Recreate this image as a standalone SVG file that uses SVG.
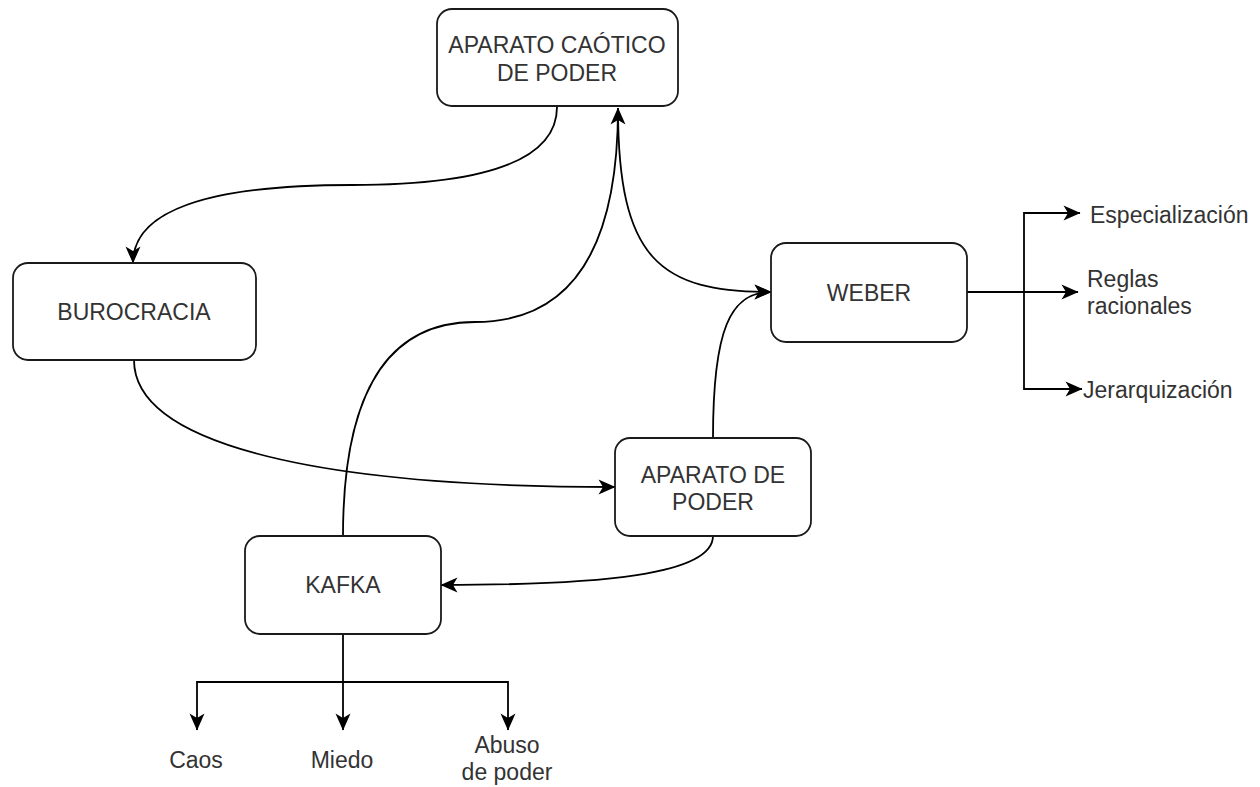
<svg xmlns="http://www.w3.org/2000/svg" width="1260" height="787" viewBox="0 0 1260 787">
  <style>
    .box { fill: #ffffff; stroke: #1a1a1a; stroke-width: 1.8; }
    .lbl { font-family: "Liberation Sans", Arial, sans-serif; font-size: 23px; fill: #333333; }
    .mid { text-anchor: middle; }
    .edge { fill: none; stroke: #000000; stroke-width: 1.8; marker-end: url(#arrow); }
  </style>
  <defs>
    <!-- classic filled arrowhead with a shallow notch -->
    <marker id="arrow" viewBox="0 0 18 18" refX="17.5" refY="9" markerWidth="18" markerHeight="18" markerUnits="userSpaceOnUse" orient="auto">
      <path d="M1,1.5 L18,9 L1,16.5 L5.5,9 Z" fill="#000000"/>
    </marker>
  </defs>

  <rect width="1260" height="787" fill="#ffffff"/>

  <!-- connectors -->
  <g id="connectors">
    <!-- aparato caótico -> burocracia -->
    <path class="edge" d="M557,107 Q557,185 352,185 Q133,185 133,263"/>
    <!-- kafka -> aparato caótico -->
    <path class="edge" d="M343,536 Q343,322 475,322 Q618,322 618,108"/>
    <!-- aparato caótico -> weber -->
    <path class="edge" d="M618,108 C618,260 660,292 771,292"/>
    <!-- burocracia -> aparato de poder -->
    <path class="edge" d="M134,360 C134,440 300,487 615,487"/>
    <!-- aparato de poder -> weber -->
    <path class="edge" d="M713,438 C713,330 730,292 771,292"/>
    <!-- aparato de poder -> kafka -->
    <path class="edge" d="M713,536 C713,575 600,585 441,585"/>
    <!-- weber branches -->
    <path class="edge" d="M967,292 L1078,292"/>
    <path class="edge" d="M1024,292 L1024,213 L1080,213"/>
    <path class="edge" d="M1024,292 L1024,389 L1082,389"/>
    <!-- kafka branches -->
    <path class="edge" d="M343,634 L343,730"/>
    <path class="edge" d="M343,682 L197,682 L197,730"/>
    <path class="edge" d="M343,682 L508,682 L508,730"/>
  </g>

  <g id="node-aparato-caotico">
    <rect class="box" x="437" y="9" width="241" height="97" rx="15" ry="15"/>
    <text class="lbl mid" x="557" y="53">APARATO CAÓTICO</text>
    <text class="lbl mid" x="557" y="81">DE PODER</text>
  </g>

  <g id="node-burocracia">
    <rect class="box" x="13" y="263" width="243" height="97" rx="15" ry="15"/>
    <text class="lbl mid" x="134" y="320">BUROCRACIA</text>
  </g>

  <g id="node-weber">
    <rect class="box" x="771" y="243" width="196" height="99" rx="15" ry="15"/>
    <text class="lbl mid" x="869" y="301">WEBER</text>
  </g>

  <g id="node-aparato-poder">
    <rect class="box" x="615" y="438" width="196" height="98" rx="15" ry="15"/>
    <text class="lbl mid" x="713" y="483">APARATO DE</text>
    <text class="lbl mid" x="713" y="510">PODER</text>
  </g>

  <g id="node-kafka">
    <rect class="box" x="245" y="536" width="196" height="98" rx="15" ry="15"/>
    <text class="lbl mid" x="343" y="593">KAFKA</text>
  </g>

  <g id="node-especializacion">
    <text class="lbl" x="1090" y="223">Especialización</text>
  </g>
  <g id="node-reglas">
    <text class="lbl" x="1087" y="287">Reglas</text>
    <text class="lbl" x="1087" y="314">racionales</text>
  </g>
  <g id="node-jerarquizacion">
    <text class="lbl" x="1083" y="398">Jerarquización</text>
  </g>

  <g id="node-caos">
    <text class="lbl mid" x="196" y="768">Caos</text>
  </g>
  <g id="node-miedo">
    <text class="lbl mid" x="342" y="768">Miedo</text>
  </g>
  <g id="node-abuso">
    <text class="lbl mid" x="507" y="753">Abuso</text>
    <text class="lbl mid" x="507" y="780">de poder</text>
  </g>
</svg>
